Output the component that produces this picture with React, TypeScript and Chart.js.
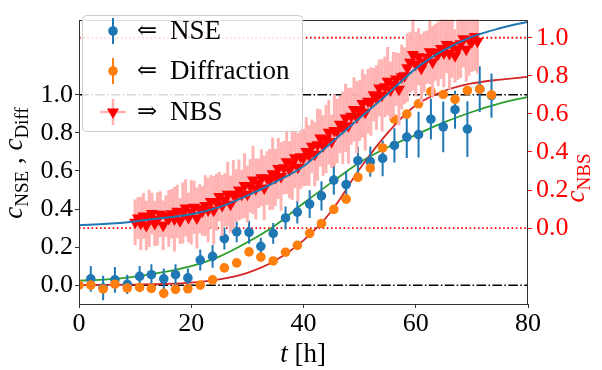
import { useEffect, useRef } from "react";
import { Chart, registerables } from "chart.js";

Chart.register(...registerables);

// ---------------- data ----------------
const nseTime = [2.1, 4.3, 6.4, 8.6, 10.8, 12.9, 15.1, 17.2, 19.4, 21.6, 23.8, 25.9, 28.1, 30.3, 32.4, 34.6, 36.8, 38.9, 41.1, 43.2, 45.4, 47.6, 49.7, 51.9, 54.1, 56.2, 58.4, 60.5, 62.7, 64.9, 67.0, 69.2, 71.4, 73.5];
const nseValue = [0.033, -0.015, 0.028, 0.004, 0.046, 0.055, 0.033, 0.055, 0.038, 0.132, 0.151, 0.245, 0.28, 0.278, 0.204, 0.272, 0.353, 0.384, 0.426, 0.469, 0.552, 0.529, 0.654, 0.649, 0.666, 0.734, 0.778, 0.791, 0.872, 0.832, 0.922, 0.82, 1.03, 0.996];
const nseError = [0.068, 0.065, 0.068, 0.05, 0.055, 0.055, 0.055, 0.055, 0.05, 0.055, 0.06, 0.058, 0.055, 0.06, 0.045, 0.055, 0.06, 0.06, 0.073, 0.077, 0.077, 0.07, 0.073, 0.08, 0.094, 0.09, 0.11, 0.12, 0.107, 0.133, 0.1, 0.147, 0.12, 0.116];

const diffTime = [0, 2.1, 4.3, 6.4, 8.6, 10.8, 12.9, 15.1, 17.2, 19.4, 21.6, 23.8, 25.9, 28.1, 30.3, 32.4, 34.6, 36.8, 38.9, 41.1, 43.2, 45.4, 47.6, 49.7, 51.9, 54.1, 56.2, 58.4, 60.5, 62.7, 64.9, 67.0, 69.2, 71.4, 73.5];
const diffValue = [0.0, 0.0, -0.02, 0.005, -0.015, -0.012, -0.017, -0.043, -0.022, -0.019, 0.0, 0.028, 0.091, 0.117, 0.175, 0.147, 0.127, 0.173, 0.209, 0.272, 0.324, 0.398, 0.452, 0.567, 0.615, 0.721, 0.872, 0.899, 0.953, 1.017, 1.002, 0.976, 1.023, 1.03, 1.0];

const nbsTime = [10, 10.5, 11, 11.5, 12, 12.5, 13, 13.5, 14, 14.5, 15, 15.5, 16, 16.5, 17, 17.5, 18, 18.5, 19, 19.5, 20, 20.5, 21, 21.5, 22, 22.5, 23, 23.5, 24, 24.5, 25, 25.5, 26, 26.5, 27, 27.5, 28, 28.5, 29, 29.5, 30, 30.5, 31, 31.5, 32, 32.5, 33, 33.5, 34, 34.5, 35, 35.5, 36, 36.5, 37, 37.5, 38, 38.5, 39, 39.5, 40, 40.5, 41, 41.5, 42, 42.5, 43, 43.5, 44, 44.5, 45, 45.5, 46, 46.5, 47, 47.5, 48, 48.5, 49, 49.5, 50, 50.5, 51, 51.5, 52, 52.5, 53, 53.5, 54, 54.5, 55, 55.5, 56, 56.5, 57, 57.5, 58, 58.5, 59, 59.5, 60, 60.5, 61, 61.5, 62, 62.5, 63, 63.5, 64, 64.5, 65, 65.5, 66, 66.5, 67, 67.5, 68, 68.5, 69, 69.5, 70, 70.5, 71];
const nbsValue = [
  0.030, 0.053, 0.025, 0.064, 0.013, 0.051, 0.076, 0.024, 0.048, 0.073, 0.015, 0.063,
  0.050, 0.075, 0.047, 0.088, 0.038, 0.079, 0.106, 0.056, 0.083, 0.109, 0.053, 0.101,
  0.090, 0.118, 0.095, 0.139, 0.093, 0.136, 0.166, 0.119, 0.148, 0.178, 0.125, 0.178,
  0.170, 0.200, 0.177, 0.223, 0.178, 0.222, 0.252, 0.206, 0.236, 0.264, 0.211, 0.263,
  0.255, 0.286, 0.266, 0.313, 0.271, 0.317, 0.349, 0.306, 0.338, 0.370, 0.320, 0.375,
  0.370, 0.402, 0.382, 0.430, 0.388, 0.438, 0.473, 0.433, 0.468, 0.503, 0.455, 0.513,
  0.510, 0.545, 0.527, 0.578, 0.538, 0.588, 0.623, 0.583, 0.618, 0.654, 0.608, 0.666,
  0.665, 0.701, 0.685, 0.736, 0.698, 0.742, 0.771, 0.725, 0.755, 0.783, 0.730, 0.795,
  0.800, 0.842, 0.872, 0.912, 0.861, 0.900, 0.840, 0.873, 0.898, 0.926, 0.873, 0.924,
  0.915, 0.943, 0.920, 0.964, 0.918, 0.960, 0.905, 0.940, 0.968, 0.995, 0.940, 0.990,
  0.980, 1.007, 0.982,
];
const nbsError = [
  0.12, 0.11, 0.14, 0.12, 0.13, 0.15, 0.11, 0.12, 0.14, 0.12, 0.13, 0.11,
  0.15, 0.13, 0.17, 0.14, 0.12, 0.16, 0.15, 0.13, 0.17, 0.14, 0.16, 0.13,
  0.13, 0.16, 0.17, 0.14, 0.18, 0.15, 0.13, 0.16, 0.14, 0.17, 0.15, 0.18,
  0.14, 0.16, 0.13, 0.17, 0.15, 0.14, 0.18, 0.16, 0.13, 0.15, 0.17, 0.14,
  0.16, 0.19, 0.15, 0.16, 0.18, 0.14, 0.17, 0.15, 0.19, 0.16, 0.18, 0.17,
  0.15, 0.18, 0.16, 0.14, 0.17, 0.19, 0.15, 0.16, 0.18, 0.17, 0.14, 0.19,
  0.17, 0.15, 0.19, 0.18, 0.20, 0.15, 0.17, 0.19, 0.16, 0.18, 0.20, 0.17,
  0.18, 0.14, 0.17, 0.15, 0.19, 0.16, 0.18, 0.15, 0.17, 0.14, 0.19, 0.17,
  0.15, 0.18, 0.16, 0.19, 0.17, 0.15, 0.18, 0.16, 0.14, 0.17, 0.19, 0.15,
  0.17, 0.16, 0.18, 0.15, 0.19, 0.17, 0.14, 0.16, 0.18, 0.15, 0.17, 0.19,
  0.16, 0.18, 0.17,
];
const nbsTimeError = 0.5;

// fitted curves, read every 5 h
const curveTime = [0, 5, 10, 15, 20, 25, 30, 35, 40, 45, 50, 55, 60, 65, 70, 75, 80];
const nseFit = [0.024, 0.03, 0.045, 0.068, 0.1, 0.15, 0.225, 0.315, 0.43, 0.54, 0.645, 0.725, 0.79, 0.855, 0.91, 0.955, 0.99];
const diffFit = [0.0, 0.001, 0.003, 0.006, 0.013, 0.03, 0.065, 0.13, 0.235, 0.39, 0.61, 0.8, 0.945, 1.02, 1.06, 1.08, 1.094];
const nbsFit = [0.015, 0.022, 0.035, 0.053, 0.072, 0.11, 0.17, 0.242, 0.325, 0.45, 0.578, 0.705, 0.838, 0.935, 1.005, 1.05, 1.085];

const xTicks = [0, 20, 40, 60, 80];
const leftTicks = [0, 0.2, 0.4, 0.6, 0.8, 1.0];
const rightTicks = [0, 0.2, 0.4, 0.6, 0.8, 1.0];
const leftRefLines = [0, 1];
const rightRefLines = [0, 1];
const xRange = [0, 80];
const leftRange = [-0.0991, 1.3955];
const rightOffset = 0.3;

// ---------------- styling ----------------
const FONT = '"Liberation Serif", "DejaVu Serif", serif';
const BLUE = "#1f77b4";
const ORANGE = "#ff7f0e";
const GREEN = "#2ca02c";
const DRED = "#d62728";
const RED = "#ff0000";
const PINK = "#ffb3b3";

const pts = (xs: number[], ys: number[]) => xs.map((x, i) => ({ x, y: ys[i] }));

const errorBarPlugin = {
  id: "errorBars",
  beforeDatasetDraw(chart: any, args: any) {
    const ds = chart.data.datasets[args.index];
    if (!ds.errY) return;
    const meta = args.meta;
    const xs = chart.scales[meta.xAxisID];
    const ys = chart.scales[meta.yAxisID];
    const ctx = chart.ctx;
    const a = chart.chartArea;
    ctx.save();
    ctx.beginPath();
    ctx.rect(a.left, a.top, a.right - a.left, a.bottom - a.top);
    ctx.clip();
    ctx.strokeStyle = ds.errColor;
    ctx.lineWidth = ds.errWidth;
    ds.data.forEach((p: any, i: number) => {
      const px = xs.getPixelForValue(p.x);
      const py = ys.getPixelForValue(p.y);
      ctx.beginPath();
      ctx.moveTo(px, ys.getPixelForValue(p.y - ds.errY[i]));
      ctx.lineTo(px, ys.getPixelForValue(p.y + ds.errY[i]));
      if (ds.errX) {
        ctx.moveTo(xs.getPixelForValue(p.x - ds.errX), py);
        ctx.lineTo(xs.getPixelForValue(p.x + ds.errX), py);
      }
      ctx.stroke();
    });
    ctx.restore();
  },
};

type Part = { t: string; italic?: boolean; sub?: boolean };

function drawParts(ctx: CanvasRenderingContext2D, parts: Part[], cx: number, cy: number, rot: number, color: string) {
  const fontOf = (p: Part) => `${p.italic ? "italic " : ""}${p.sub ? 19 : 27}px ${FONT}`;
  let w = 0;
  for (const p of parts) {
    ctx.font = fontOf(p);
    w += ctx.measureText(p.t).width;
  }
  ctx.save();
  ctx.translate(cx, cy);
  ctx.rotate(rot);
  ctx.fillStyle = color;
  ctx.textBaseline = "alphabetic";
  ctx.textAlign = "left";
  let x = -w / 2;
  for (const p of parts) {
    ctx.font = fontOf(p);
    ctx.fillText(p.t, x, p.sub ? 6 : 0);
    x += ctx.measureText(p.t).width;
  }
  ctx.restore();
}

const decorPlugin = {
  id: "decor",
  afterDraw(chart: any) {
    const ctx: CanvasRenderingContext2D = chart.ctx;
    const a = chart.chartArea;
    // frame
    ctx.save();
    ctx.strokeStyle = "#333";
    ctx.lineWidth = 1;
    ctx.strokeRect(Math.round(a.left) + 0.5, Math.round(a.top) + 0.5, Math.round(a.right - a.left) - 1, Math.round(a.bottom - a.top));
    ctx.restore();

    // axis labels
    drawParts(ctx, [{ t: "c", italic: true }, { t: "NSE", sub: true }, { t: " , " }, { t: "c", italic: true }, { t: "Diff", sub: true }], 22, 163, -Math.PI / 2, "#000");
    drawParts(ctx, [{ t: "c", italic: true }, { t: "NBS", sub: true }], 584, 178, -Math.PI / 2, RED);
    drawParts(ctx, [{ t: "t", italic: true }, { t: " [h]" }], 303, 362, 0, "#000");

    // legend
    ctx.save();
    ctx.beginPath();
    (ctx as any).roundRect(82.5, 15.5, 220, 116, 4);
    ctx.fillStyle = "rgba(255,255,255,0.85)";
    ctx.fill();
    ctx.strokeStyle = "#cccccc";
    ctx.lineWidth = 1;
    ctx.stroke();

    const mx = 113;
    const rows = [
      { y: 31, label: "NSE", arrow: "\u21D0", kind: "nse" },
      { y: 71, label: "Diffraction", arrow: "\u21D0", kind: "diff" },
      { y: 112, label: "NBS", arrow: "\u21D2", kind: "nbs" },
    ];
    for (const r of rows) {
      if (r.kind === "nbs") {
        ctx.strokeStyle = PINK;
        ctx.lineWidth = 2.5;
        ctx.beginPath();
        ctx.moveTo(mx - 13, r.y);
        ctx.lineTo(mx + 13, r.y);
        ctx.moveTo(mx, r.y - 13);
        ctx.lineTo(mx, r.y + 13);
        ctx.stroke();
        ctx.fillStyle = RED;
        const s = 7;
        ctx.beginPath();
        ctx.moveTo(mx - s * 0.866, r.y - s * 0.5);
        ctx.lineTo(mx + s * 0.866, r.y - s * 0.5);
        ctx.lineTo(mx, r.y + s);
        ctx.closePath();
        ctx.fill();
      } else {
        const c = r.kind === "nse" ? BLUE : ORANGE;
        ctx.strokeStyle = c;
        ctx.lineWidth = 2;
        ctx.beginPath();
        ctx.moveTo(mx, r.y - 13);
        ctx.lineTo(mx, r.y + 13);
        ctx.stroke();
        ctx.fillStyle = c;
        ctx.beginPath();
        ctx.arc(mx, r.y, 4.8, 0, Math.PI * 2);
        ctx.fill();
      }
      ctx.fillStyle = "#000";
      ctx.textBaseline = "middle";
      ctx.textAlign = "left";
      ctx.font = `24px "DejaVu Serif", ${FONT}`;
      ctx.fillText(r.arrow, 137, r.y + 1);
      ctx.font = `27px ${FONT}`;
      ctx.fillText(r.label, 170, r.y + 1);
    }
    ctx.restore();
  },
};

export default function App() {
  const ref = useRef<HTMLCanvasElement>(null);

  useEffect(() => {
    const canvas = ref.current;
    if (!canvas) return;

    const hLine = (y: number) => xRange.map((x) => ({ x, y }));
    const tickFont = { family: FONT, size: 26 };

    const datasets: any[] = [
      ...rightRefLines.map((v) => ({
        data: hLine(v), yAxisID: "y1", borderColor: RED, borderWidth: 1.8, borderDash: [1.6, 2.6], pointRadius: 0, showLine: true,
      })),
      ...leftRefLines.map((v) => ({
        data: hLine(v), yAxisID: "y", borderColor: "#000", borderWidth: 1.5, borderDash: [9.6, 2.4, 1.5, 2.4], pointRadius: 0, showLine: true,
      })),
      { data: pts(curveTime, nseFit), yAxisID: "y", borderColor: GREEN, borderWidth: 1.8, pointRadius: 0, showLine: true, cubicInterpolationMode: "monotone" },
      { data: pts(curveTime, diffFit), yAxisID: "y", borderColor: DRED, borderWidth: 1.8, pointRadius: 0, showLine: true, cubicInterpolationMode: "monotone" },
      {
        data: pts(nseTime, nseValue), yAxisID: "y", showLine: false, pointRadius: 4.8, pointBackgroundColor: BLUE, pointBorderColor: BLUE, pointBorderWidth: 0,
        errY: nseError, errColor: BLUE, errWidth: 2,
      },
      { data: pts(diffTime, diffValue), yAxisID: "y", showLine: false, pointRadius: 4.8, pointBackgroundColor: ORANGE, pointBorderColor: ORANGE, pointBorderWidth: 0 },
      {
        data: pts(nbsTime, nbsValue), yAxisID: "y1", showLine: false, pointStyle: "triangle", rotation: 180, pointRadius: 7, pointBackgroundColor: RED, pointBorderColor: RED, pointBorderWidth: 0,
        errY: nbsError, errX: nbsTimeError, errColor: PINK, errWidth: 3,
      },
      { data: pts(curveTime, nbsFit), yAxisID: "y1", borderColor: BLUE, borderWidth: 2, pointRadius: 0, showLine: true, cubicInterpolationMode: "monotone" },
    ];
    const n = datasets.length;
    datasets.forEach((d, i) => {
      d.order = n - i;
      d.clip = 0;
      d.xAxisID = "x";
      d.fill = false;
    });

    const chart = new Chart(canvas, {
      type: "line",
      data: { datasets },
      plugins: [errorBarPlugin, decorPlugin],
      options: {
        animation: false,
        responsive: false,
        devicePixelRatio: 1,
        events: [],
        layout: { padding: { top: 13, left: 0, right: 0, bottom: 0 } },
        plugins: { legend: { display: false }, tooltip: { enabled: false } },
        scales: {
          x: {
            type: "linear",
            position: "bottom",
            min: xRange[0],
            max: xRange[1],
            afterBuildTicks: (s: any) => { s.ticks = xTicks.map((v) => ({ value: v })); },
            afterFit: (s: any) => { s.height = 66; },
            ticks: { font: tickFont, color: "#000", padding: 1, maxRotation: 0, autoSkip: false, callback: (v: any) => String(v) },
            grid: { drawOnChartArea: false, drawTicks: true, tickLength: 4, tickColor: "#333", tickWidth: 1 },
            border: { display: false },
          },
          y: {
            type: "linear",
            position: "left",
            min: leftRange[0],
            max: leftRange[1],
            afterBuildTicks: (s: any) => { s.ticks = leftTicks.map((v) => ({ value: v })); },
            afterFit: (s: any) => { s.width = 79; },
            ticks: { font: tickFont, color: "#000", padding: 2, autoSkip: false, callback: (v: any) => Number(v).toFixed(1) },
            grid: { drawOnChartArea: false, drawTicks: true, tickLength: 4, tickColor: "#333", tickWidth: 1 },
            border: { display: false },
          },
          y1: {
            type: "linear",
            position: "right",
            min: leftRange[0] - rightOffset,
            max: leftRange[1] - rightOffset,
            afterBuildTicks: (s: any) => { s.ticks = rightTicks.map((v) => ({ value: v })); },
            afterFit: (s: any) => { s.width = 74; },
            ticks: { font: tickFont, color: RED, padding: 4, autoSkip: false, callback: (v: any) => Number(v).toFixed(1) },
            grid: { drawOnChartArea: false, drawTicks: true, tickLength: 4, tickColor: RED, tickWidth: 1 },
            border: { display: false },
          },
        },
      } as any,
    });
    return () => chart.destroy();
  }, []);

  return (
    <div style={{ position: "fixed", left: 0, top: 0, width: 602, height: 370, background: "#fff" }}>
      <canvas ref={ref} width={602} height={370} style={{ display: "block", width: 602, height: 370 }} />
    </div>
  );
}
